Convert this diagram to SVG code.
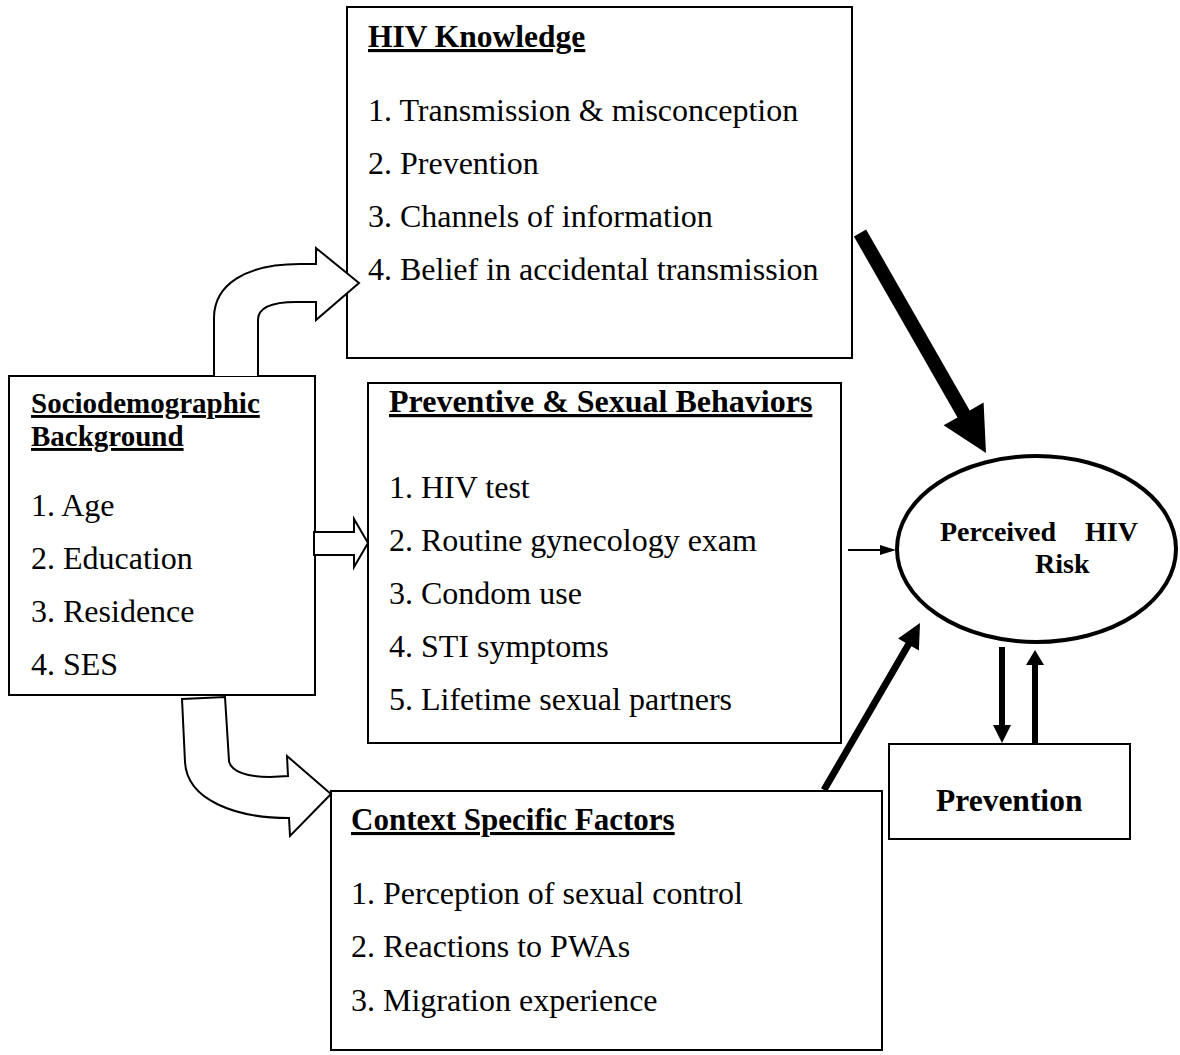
<svg xmlns="http://www.w3.org/2000/svg" width="1180" height="1055" viewBox="0 0 1180 1055">
<style>
.box{fill:#fff;stroke:#000;stroke-width:2}
.t{font-family:"Liberation Serif","Times New Roman",serif;font-size:32px;fill:#000}
.b{font-weight:bold}
.u{text-decoration:underline}
.blk{fill:#fff;stroke:#000;stroke-width:2;stroke-linejoin:miter}
.solid{fill:#000;stroke:none}
</style>
<rect width="1180" height="1055" fill="#fff"/>
<g id="hiv-knowledge">
<rect class="box" x="347" y="7" width="505" height="351"/>
<text class="t b u" x="368" y="47" style="font-size:31.5px">HIV Knowledge</text>
<text class="t" x="368" y="121">1. Transmission &amp; misconception</text>
<text class="t" x="368" y="174">2. Prevention</text>
<text class="t" x="368" y="227">3. Channels of information</text>
<text class="t" x="368" y="280">4. Belief in accidental transmission</text>
</g>
<g id="sociodemographic">
<rect class="box" x="9" y="376" width="306" height="319"/>
<text class="t b u" x="31" y="413" style="font-size:29px">Sociodemographic</text>
<text class="t b u" x="31" y="446" style="font-size:29px">Background</text>
<text class="t" x="31" y="516">1. Age</text>
<text class="t" x="31" y="569">2. Education</text>
<text class="t" x="31" y="622">3. Residence</text>
<text class="t" x="31" y="675">4. SES</text>
</g>
<g id="preventive-behaviors">
<rect class="box" x="368" y="383" width="473" height="360"/>
<text class="t b u" x="389" y="412">Preventive &amp; Sexual Behaviors</text>
<text class="t" x="389" y="498">1. HIV test</text>
<text class="t" x="389" y="551">2. Routine gynecology exam</text>
<text class="t" x="389" y="604">3. Condom use</text>
<text class="t" x="389" y="657">4. STI symptoms</text>
<text class="t" x="389" y="710">5. Lifetime sexual partners</text>
</g>
<g id="context-factors">
<rect class="box" x="331" y="791" width="551" height="259"/>
<text class="t b u" x="351" y="830" style="font-size:31px">Context Specific Factors</text>
<text class="t" x="351" y="904">1. Perception of sexual control</text>
<text class="t" x="351" y="957">2. Reactions to PWAs</text>
<text class="t" x="351" y="1011">3. Migration experience</text>
</g>
<g id="prevention">
<rect class="box" x="889" y="744" width="241" height="95"/>
<text class="t b" x="936" y="811" style="font-size:31.5px">Prevention</text>
</g>
<g id="perceived-risk">
<ellipse cx="1036.5" cy="549" rx="139.5" ry="93" fill="#fff" stroke="#000" stroke-width="4"/>
<text class="t b" x="940" y="541" style="font-size:28px">Perceived</text>
<text class="t b" x="1085" y="541" style="font-size:28px">HIV</text>
<text class="t b" x="1035" y="573" style="font-size:28px">Risk</text>
</g>
<g id="connectors">
<path class="blk" d="M214,376 L214,318 C214,285 245,264 300,264 L316,264 L316,248 L359,283 L316,320 L316,302 L296,302 C272,302 258,308 258,320 L258,376"/>
<path class="blk" d="M314,532 L354,532 L354,519 L368,543 L354,567 L354,555 L314,555 Z"/>
<path class="blk" d="M182,699 L225,697 L229,761 C231,772 248,777 270,777 L288,776 L287,756 L331,794 L290,836 L289,818 C235,818 187,800 185,762 Z"/>
<polygon class="solid" points="866.1,229.5 853.9,236.5 957.5,417.4 943.6,425.3 986,453 983.6,402.5 969.7,410.4"/>
<line x1="848" y1="550" x2="884" y2="550" stroke="#000" stroke-width="2"/>
<polygon class="solid" points="880,545 896,550 880,555"/>
<polygon class="solid" points="827,791.7 821,788.3 905.5,642.8 898.1,638.5 920,623 918.9,650.5 911.5,646.2"/>
<line x1="1002" y1="647" x2="1002" y2="727" stroke="#000" stroke-width="6"/>
<polygon class="solid" points="993,725 1011,725 1002,743"/>
<line x1="1035" y1="744" x2="1035" y2="663" stroke="#000" stroke-width="6"/>
<polygon class="solid" points="1026,665 1044,665 1035,650"/>
</g>
</svg>
